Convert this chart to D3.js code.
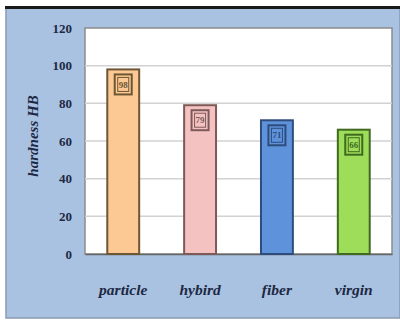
<!DOCTYPE html>
<html><head><meta charset="utf-8">
<script src="https://cdn.jsdelivr.net/npm/d3@7"></script>
<style>body{margin:0;background:#fff}svg{display:block}</style>
</head><body>
<script>
const categories = ["particle","hybird","fiber","virgin"];
const values = [98, 79, 71, 66];
const yTicks = [0,20,40,60,80,100,120];
const fills = ["#FCC893","#F4C3C1","#5E92DA","#9EDD5A"];
const strokes = ["#6E5634","#7D5A58","#2E4C7C","#3F6A1F"];
const yTitle = "hardness HB";

const W=400,H=322;
const svg=d3.select("body").append("svg").attr("width",W).attr("height",H);
// panel
svg.append("rect").attr("x",6).attr("y",8).attr("width",W-6).attr("height",310).attr("fill","#A9C2E1").attr("stroke","#8a9ab0").attr("stroke-width",1.5);
svg.append("rect").attr("x",5).attr("y",6).attr("width",W-5).attr("height",3).attr("fill","#1a1a1a");

const m={l:85,t:28,r:392,b:254};
const x=d3.scaleBand().domain(categories).range([m.l,m.r]).paddingInner(0.585).paddingOuter(0.29);
const y=d3.scaleLinear().domain([0,120]).range([m.b,m.t]);

svg.append("rect").attr("x",m.l).attr("y",m.t).attr("width",m.r-m.l).attr("height",m.b-m.t).attr("fill","#fff").attr("stroke","#8c8c8c").attr("stroke-width",1.5);

svg.append("g").selectAll("line").data(yTicks.filter(d=>d>0&&d<120)).join("line")
 .attr("x1",m.l).attr("x2",m.r).attr("y1",d=>y(d)).attr("y2",d=>y(d)).attr("stroke","#d2d2d2").attr("stroke-width",1.5);

const ya=svg.append("g").attr("transform",`translate(${m.l},0)`).call(d3.axisLeft(y).tickValues(yTicks).tickSize(0).tickPadding(13));
ya.select(".domain").remove();
ya.selectAll("text").attr("font-family","Liberation Serif").attr("font-weight","bold").attr("font-size",13).attr("fill","#1d2844");

const xa=svg.append("g").attr("transform",`translate(0,${m.b})`).call(d3.axisBottom(x).tickSize(0).tickPadding(30));
xa.select(".domain").attr("stroke","#666").attr("stroke-width",1.5);
xa.selectAll("text").attr("font-family","Liberation Serif").attr("font-style","italic").attr("font-weight","bold").attr("font-size",15.5).attr("fill","#1d2844");

const bars=svg.append("g").selectAll("g").data(categories).join("g");
bars.append("rect").attr("x",d=>x(d)).attr("width",x.bandwidth()).attr("y",(d,i)=>y(values[i])).attr("height",(d,i)=>m.b-y(values[i]))
 .attr("fill",(d,i)=>fills[i]).attr("stroke",(d,i)=>strokes[i]).attr("stroke-width",2);
const bw=17,bh=20;
bars.append("rect").attr("x",d=>x(d)+x.bandwidth()/2-bw/2).attr("y",(d,i)=>y(values[i])+5).attr("width",bw).attr("height",bh)
 .attr("fill","none").attr("stroke",(d,i)=>strokes[i]).attr("stroke-width",2);
bars.append("rect").attr("x",d=>x(d)+x.bandwidth()/2-bw/2+3).attr("y",(d,i)=>y(values[i])+8).attr("width",bw-6).attr("height",bh-6)
 .attr("fill","none").attr("stroke",(d,i)=>strokes[i]).attr("stroke-width",1);
bars.append("text").attr("x",d=>x(d)+x.bandwidth()/2).attr("y",(d,i)=>y(values[i])+15).attr("dy","0.35em").attr("text-anchor","middle")
 .attr("font-family","Liberation Serif").attr("font-weight","bold").attr("font-size",9).attr("fill",(d,i)=>strokes[i]).text((d,i)=>values[i]);

svg.append("text").attr("transform",`translate(38,${(m.t+m.b)/2-5}) rotate(-90)`).attr("text-anchor","middle")
 .attr("font-family","Liberation Serif").attr("font-style","italic").attr("font-weight","bold").attr("font-size",15).attr("fill","#1d2844").text(yTitle);
</script>
</body></html>
